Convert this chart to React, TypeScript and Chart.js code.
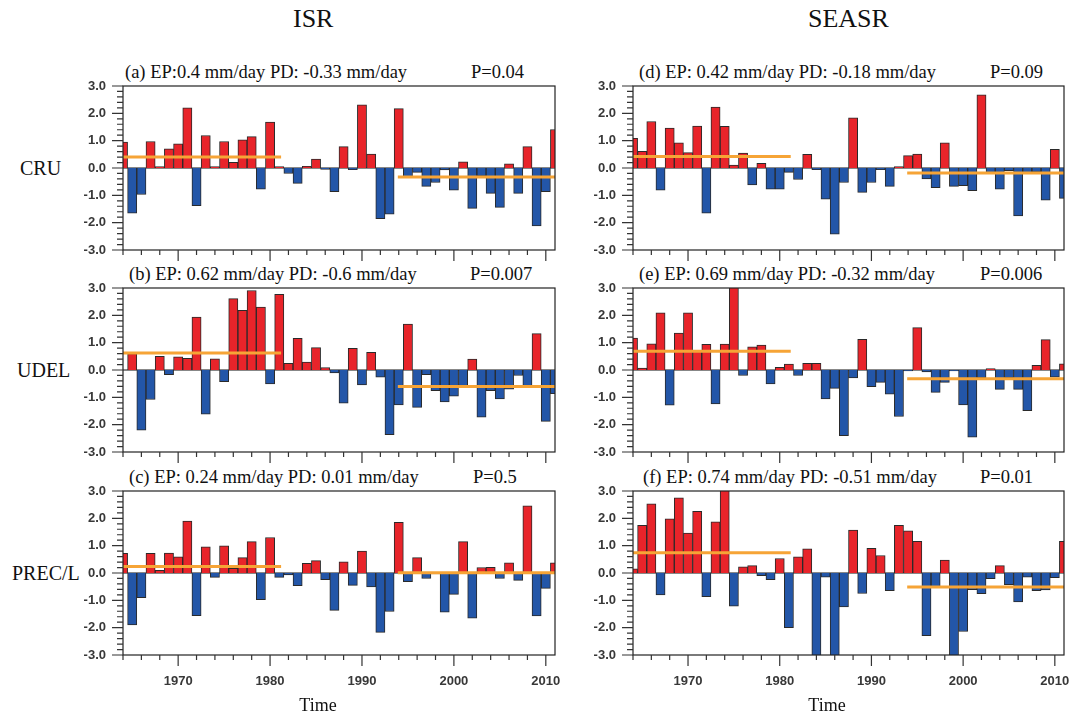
import React, { useEffect, useRef } from "react";
import { Chart, registerables } from "chart.js";

Chart.register(...registerables);

// ---------------- data ----------------
const YEARS = [
  1964, 1965, 1966, 1967, 1968, 1969, 1970, 1971, 1972, 1973, 1974, 1975,
  1976, 1977, 1978, 1979, 1980, 1981, 1982, 1983, 1984, 1985, 1986, 1987,
  1988, 1989, 1990, 1991, 1992, 1993, 1994, 1995, 1996, 1997, 1998, 1999,
  2000, 2001, 2002, 2003, 2004, 2005, 2006, 2007, 2008, 2009, 2010, 2011,
];

const X_LABEL_YEARS = [1970, 1980, 1990, 2000, 2010];
const Y_TICKS = [-3, -2, -1, 0, 1, 2, 3];

// EP period line span and PD period line span (years)
const EP_SPAN = [1964, 1981.2];
const PD_SPAN = [1993.9, 2011];

// (a) ISR – CRU
const ISR_CRU = [
  0.95, -1.65, -0.97, 0.97, 0.05, 0.7, 0.88, 2.2, -1.38, 1.19, 0.05, 0.97,
  0.21, 1.03, 1.15, -0.77, 1.68, 0.05, -0.2, -0.56, 0.06, 0.33, -0.05, -0.87,
  0.78, -0.06, 2.31, 0.51, -1.85, -1.69, 2.17, -0.32, -0.16, -0.67, -0.53, -0.07,
  -0.81, 0.23, -1.48, -0.3, -0.93, -1.44, 0.15, -0.93, 0.78, -2.12, -0.87, 1.41,
];
// (b) ISR – UDEL
const ISR_UDEL = [
  0, 0.6, -2.2, -1.08, 0.5, -0.17, 0.48, 0.43, 1.94, -1.62, 0.41, -0.43,
  2.61, 2.18, 2.91, 2.3, -0.51, 2.77, 0.24, 1.16, 0.29, 0.82, 0.09, -0.11,
  -1.21, 0.79, -0.55, 0.65, -0.26, -2.37, -1.28, 1.68, -1.37, -0.17, -0.76, -1.17,
  -0.96, -0.57, 0.4, -1.73, -0.76, -1.06, -0.7, -0.2, -0.6, 1.33, -1.88, -0.87,
];
// (c) ISR – PREC/L
const ISR_PREC = [
  0.72, -1.9, -0.9, 0.72, 0.1, 0.73, 0.59, 1.9, -1.56, 0.96, -0.16, 0.99,
  0.17, 0.56, 1.15, -0.98, 1.3, -0.16, -0.07, -0.46, 0.35, 0.45, -0.24, -1.37,
  0.41, -0.45, 0.8, -0.51, -2.17, -1.41, 1.85, -0.32, 0.56, -0.2, -0.03, -1.43,
  -0.78, 1.15, -1.65, 0.2, 0.21, -0.2, 0.37, -0.27, 2.46, -1.57, -0.56, 0.37,
];
// (d) SEASR – CRU
const SEASR_CRU = [
  1.09, 0.61, 1.7, -0.81, 1.46, 0.92, 0.56, 1.53, -1.65, 2.23, 1.52, 0.11,
  0.55, -0.62, 0.17, -0.77, -0.77, -0.16, -0.42, 0.5, -0.06, -1.14, -2.42, -0.53,
  1.84, -0.89, -0.53, -0.06, -0.67, 0.05, 0.45, 0.51, -0.4, -0.72, 0.92, -0.67,
  -0.65, -0.83, 2.68, -0.2, -0.77, -0.1, -1.75, -0.2, -0.15, -1.18, 0.68, -1.11,
];
// (e) SEASR – UDEL
const SEASR_UDEL = [
  1.17, 0.07, 0.96, 2.09, -1.29, 1.35, 2.09, 0.7, 0.94, -1.24, 0.95, 3.2,
  -0.2, 0.85, 0.91, -0.51, 0.1, 0.22, -0.2, 0.24, 0.24, -1.06, -0.67, -2.4,
  -0.29, 1.12, -0.61, -0.45, -0.88, -1.7, -0.03, 1.55, -0.07, -0.82, -0.45, -0.03,
  -1.28, -2.46, -0.29, 0.05, -0.71, -0.29, -0.71, -1.49, 0.17, 1.11, -0.26, 0.23,
];
// (f) SEASR – PREC/L
const SEASR_PREC = [
  0.15, 1.74, 2.53, -0.8, 1.98, 2.75, 1.46, 2.26, -0.87, 1.87, 3.1, -1.21,
  0.23, 0.27, -0.1, -0.24, 0.53, -2.0, 0.59, 0.88, -3.4, -0.15, -3.6, -1.24,
  1.57, -0.75, 0.9, 0.64, -0.65, 1.74, 1.54, 1.16, -2.29, -0.5, 0.47, -4.2,
  -2.14, -0.61, -0.76, -0.21, 0.27, -0.43, -1.06, -0.15, -0.65, -0.62, -0.17, 1.16,
];

const EP_VALUES = [0.4, 0.62, 0.24, 0.42, 0.69, 0.74];
const PD_VALUES = [-0.33, -0.6, 0.01, -0.18, -0.32, -0.51];

const PANEL_TITLES = [
  "(a) EP:0.4 mm/day PD: -0.33 mm/day",
  "(b) EP: 0.62 mm/day PD: -0.6 mm/day",
  "(c) EP: 0.24 mm/day PD: 0.01 mm/day",
  "(d) EP: 0.42 mm/day PD: -0.18 mm/day",
  "(e) EP: 0.69 mm/day PD: -0.32 mm/day",
  "(f) EP: 0.74 mm/day PD: -0.51 mm/day",
];
const P_LABELS = ["P=0.04", "P=0.007", "P=0.5", "P=0.09", "P=0.006", "P=0.01"];
const ROW_LABELS = ["CRU", "UDEL", "PREC/L"];
const COL_LABELS = ["ISR", "SEASR"];

// ---------------- style / layout ----------------
const RED = "#e8242a";
const BLUE = "#2356a8";
const ORANGE = "#f6a436";
const SANS = '"Liberation Sans", Arial, Helvetica, sans-serif';
const SERIF = '"Liberation Serif", "Times New Roman", Times, serif';

const COL_X = [123, 633];
const COL_W = [432, 431];
const ROW_Y = [86, 288, 491];
const PLOT_H = 164;
const Y_AXIS_W = 60;
const PAD_TOP = 10;
const PAD_RIGHT = 10;

function makeAxesPlugin(showXLabels: boolean) {
  return {
    id: "nclAxes",
    beforeDatasetsDraw(chart: any) {
      const { ctx, chartArea, scales } = chart;
      const y0 = scales.y.getPixelForValue(0);
      ctx.save();
      ctx.strokeStyle = "#111";
      ctx.lineWidth = 1;
      ctx.beginPath();
      ctx.moveTo(chartArea.left, y0);
      ctx.lineTo(chartArea.right, y0);
      ctx.stroke();
      ctx.restore();
    },
    afterDraw(chart: any) {
      const { ctx, chartArea, scales } = chart;
      const { left, right, top, bottom } = chartArea;
      ctx.save();
      ctx.strokeStyle = "#222";
      ctx.lineWidth = 1.2;
      ctx.strokeRect(left, top, right - left, bottom - top);
      ctx.strokeStyle = "#333";
      ctx.lineWidth = 1.2;
      ctx.beginPath();
      // y ticks: major every 1.0, minor every 0.2
      for (let k = -15; k <= 15; k++) {
        const py = scales.y.getPixelForValue(k / 5);
        const len = k % 5 === 0 ? 11 : 6;
        ctx.moveTo(left, py);
        ctx.lineTo(left - len, py);
      }
      // x ticks: major every 10 years, minor every 2 years
      for (let yr = 1964; yr <= 2010; yr += 2) {
        const px = scales.x.getPixelForValue(yr);
        const len = yr % 10 === 0 ? 11 : 5;
        ctx.moveTo(px, bottom);
        ctx.lineTo(px, bottom + len);
      }
      ctx.stroke();

      // tick labels
      ctx.fillStyle = "#383838";
      ctx.font = `bold 13px ${SANS}`;
      ctx.textAlign = "right";
      ctx.textBaseline = "middle";
      Y_TICKS.forEach((v) => {
        ctx.fillText(v.toFixed(1), left - 17, scales.y.getPixelForValue(v));
      });
      if (showXLabels) {
        ctx.textAlign = "center";
        X_LABEL_YEARS.forEach((yr) => {
          ctx.fillText(String(yr), scales.x.getPixelForValue(yr), bottom + 26);
        });
      }
      ctx.restore();
    },
  };
}

type PanelCfg = {
  values: number[];
  ep: number;
  pd: number;
  col: number;
  row: number;
};

function Panel({ cfg }: { cfg: PanelCfg }) {
  const ref = useRef<HTMLCanvasElement>(null);
  const isBottom = cfg.row === 2;
  const xh = isBottom ? 42 : 15;
  const plotW = COL_W[cfg.col];
  const width = Y_AXIS_W + plotW + PAD_RIGHT;
  const height = PAD_TOP + PLOT_H + xh;
  const left = COL_X[cfg.col] - Y_AXIS_W;
  const top = ROW_Y[cfg.row] - PAD_TOP;

  useEffect(() => {
    if (!ref.current) return;
    const barData = YEARS.map((yr, i) => ({ x: yr, y: cfg.values[i] }));
    const chart = new Chart(ref.current, {
      type: "bar",
      data: {
        datasets: [
          {
            type: "line",
            data: [
              { x: EP_SPAN[0], y: cfg.ep },
              { x: EP_SPAN[1], y: cfg.ep },
            ],
            borderColor: ORANGE,
            borderWidth: 3,
            pointRadius: 0,
            order: 1,
            clip: 0,
          } as any,
          {
            type: "line",
            data: [
              { x: PD_SPAN[0], y: cfg.pd },
              { x: PD_SPAN[1], y: cfg.pd },
            ],
            borderColor: ORANGE,
            borderWidth: 3,
            pointRadius: 0,
            order: 1,
            clip: 0,
          } as any,
          {
            type: "bar",
            data: barData,
            backgroundColor: cfg.values.map((v) => (v >= 0 ? RED : BLUE)),
            borderColor: "#2a2a2a",
            borderWidth: 1,
            barPercentage: 1,
            categoryPercentage: 1,
            order: 2,
            clip: 0,
          } as any,
        ],
      },
      options: {
        animation: false,
        responsive: false,
        maintainAspectRatio: false,
        events: [],
        layout: { padding: { left: 0, right: PAD_RIGHT, top: PAD_TOP, bottom: 0 } },
        plugins: {
          legend: { display: false },
          tooltip: { enabled: false },
          title: { display: false },
        },
        scales: {
          x: {
            type: "linear",
            min: 1964,
            max: 2011,
            offset: false,
            grid: { display: false, drawTicks: false },
            border: { display: false },
            afterFit: (s: any) => {
              s.height = xh;
            },
            ticks: { display: false },
          },
          y: {
            type: "linear",
            min: -3,
            max: 3,
            grid: { display: false, drawTicks: false },
            border: { display: false },
            afterFit: (s: any) => {
              s.width = Y_AXIS_W;
            },
            ticks: { display: false },
          },
        },
      } as any,
      plugins: [makeAxesPlugin(isBottom)],
    });
    return () => chart.destroy();
  }, []);

  return (
    <canvas
      ref={ref}
      width={width}
      height={height}
      style={{ position: "absolute", left, top, width, height }}
    />
  );
}

const PANELS: PanelCfg[] = [
  { values: ISR_CRU, ep: EP_VALUES[0], pd: PD_VALUES[0], col: 0, row: 0 },
  { values: ISR_UDEL, ep: EP_VALUES[1], pd: PD_VALUES[1], col: 0, row: 1 },
  { values: ISR_PREC, ep: EP_VALUES[2], pd: PD_VALUES[2], col: 0, row: 2 },
  { values: SEASR_CRU, ep: EP_VALUES[3], pd: PD_VALUES[3], col: 1, row: 0 },
  { values: SEASR_UDEL, ep: EP_VALUES[4], pd: PD_VALUES[4], col: 1, row: 1 },
  { values: SEASR_PREC, ep: EP_VALUES[5], pd: PD_VALUES[5], col: 1, row: 2 },
];

// text placement (baseline-based)
const TITLE_X = [125, 129, 129, 639, 639, 643];
const P_X = [471, 470, 473, 990, 980, 980];
const ROW_LABEL_X = [20, 17, 12];
const COL_LABEL_X = [293, 808];

function Txt({
  text,
  x,
  baseline,
  size,
  family,
  align,
}: {
  text: string;
  x: number;
  baseline: number;
  size: number;
  family: string;
  align?: "left" | "center";
}) {
  const top = baseline - 0.8375 * size;
  const style: React.CSSProperties = {
    position: "absolute",
    top,
    fontFamily: family,
    fontSize: size,
    lineHeight: `${size}px`,
    color: "#111",
    whiteSpace: "nowrap",
  };
  if (align === "center") {
    style.left = x - 100;
    style.width = 200;
    style.textAlign = "center";
  } else {
    style.left = x;
  }
  return <div style={style}>{text}</div>;
}

export default function App() {
  return (
    <div
      style={{
        position: "absolute",
        left: 0,
        top: 0,
        width: 1071,
        height: 715,
        background: "#fff",
        overflow: "hidden",
      }}
    >
      {COL_LABELS.map((t, i) => (
        <Txt key={t} text={t} x={COL_LABEL_X[i]} baseline={28} size={26} family={SERIF} />
      ))}
      {ROW_LABELS.map((t, i) => (
        <Txt
          key={t}
          text={t}
          x={ROW_LABEL_X[i]}
          baseline={ROW_Y[i] + PLOT_H / 2 + 6.5}
          size={20}
          family={SERIF}
        />
      ))}
      {PANELS.map((p, i) => (
        <React.Fragment key={i}>
          <Txt
            text={PANEL_TITLES[i]}
            x={TITLE_X[i]}
            baseline={ROW_Y[p.row] - 7.5}
            size={18.5}
            family={SERIF}
          />
          <Txt
            text={P_LABELS[i]}
            x={P_X[i]}
            baseline={ROW_Y[p.row] - 7.5}
            size={18.5}
            family={SERIF}
          />
        </React.Fragment>
      ))}
      {PANELS.map((p, i) => (
        <Panel key={"c" + i} cfg={p} />
      ))}
      <Txt text="Time" x={318} baseline={711} size={18} family={SERIF} align="center" />
      <Txt text="Time" x={827} baseline={711} size={18} family={SERIF} align="center" />
    </div>
  );
}
